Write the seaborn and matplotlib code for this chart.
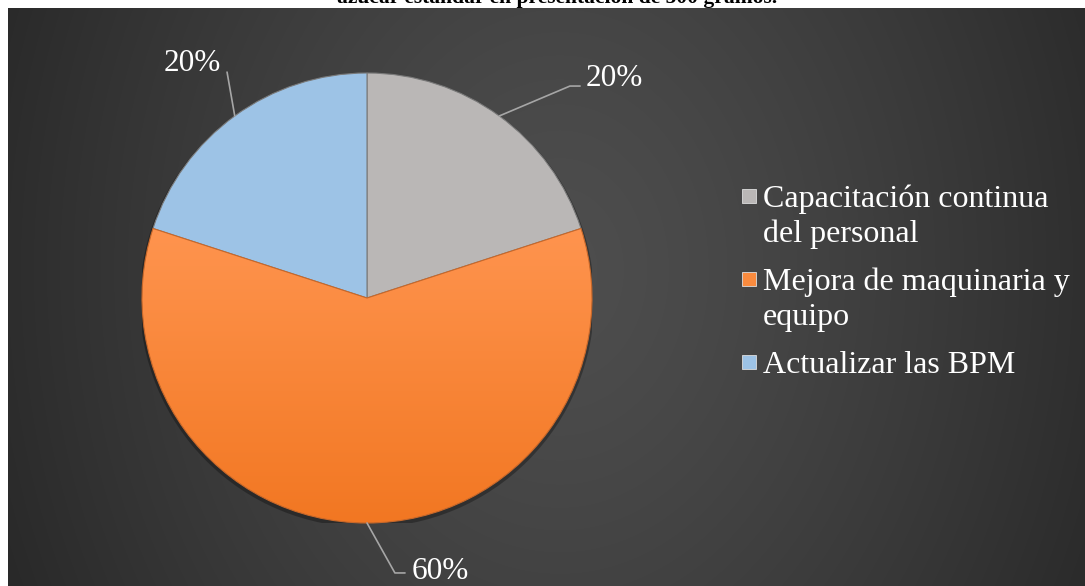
import numpy as np
import matplotlib
matplotlib.use("Agg")
import matplotlib.pyplot as plt
import seaborn as sns
from matplotlib.patches import Rectangle, Circle

# Data
categorias = ["Capacitación continua\ndel personal",
              "Mejora de maquinaria y\nequipo",
              "Actualizar las BPM"]
valores = [20, 60, 20]
colores = ["#BAB7B6", "#FA8B3E", "#9DC3E6"]
titulo = "azúcar estándar en presentación de 500 gramos."

sns.set_theme(style="dark")
plt.rcParams["font.family"] = ["Liberation Serif", "DejaVu Serif"]

W, H = 1085, 586
fig = plt.figure(figsize=(W / 100, H / 100), dpi=100, facecolor="white")


def fx(px):
    return px / W


def fy(py):
    return 1 - py / H


# Dark panel with a soft radial gradient
px0, py0 = 8, 8
bg = fig.add_axes([fx(px0), 0, 1 - fx(px0), 1 - py0 / H])
xs = np.arange(px0, W) + 0.5
ys = np.arange(py0, H) + 0.5
X, Y = np.meshgrid(xs, ys)
d = np.sqrt(((X - 560) / 640) ** 2 + ((Y - 270) / 820) ** 2)
d = np.clip(d, 0, 1)
lev = (0x4e - (0x4e - 0x26) * d ** 1.3) / 255.0
bg.imshow(np.dstack([lev, lev, lev]), aspect="auto", interpolation="bilinear")
bg.set_axis_off()

# Title line (cut at the top edge of the page)
fig.text(fx(557), fy(3), titulo, ha="center", va="baseline", fontsize=15.5,
         fontweight="bold", color="black")

# Pie
R = 225
cx, cy = 367, 298
ax = fig.add_axes([fx(cx - R), fy(cy + R), 2 * R / W, 2 * R / H])
ax.set_facecolor("none")

# soft shadow under the pie
ax.add_patch(Circle((0.0, -0.010), 1.010, color="black", alpha=0.3, lw=0, zorder=0))

wedges, _ = ax.pie(valores, colors=colores, startangle=90, counterclock=False,
                   radius=1, wedgeprops=dict(linewidth=0.8, edgecolor="#7a7a7a"))
for w in wedges:
    w.set_zorder(1)

# vertical shading on the large orange wedge
grad = np.linspace(0, 1, 256)[:, None]
c_top = np.array([0xFF, 0x95, 0x50]) / 255
c_bot = np.array([0xF2, 0x77, 0x22]) / 255
img = c_top[None, None, :] * (1 - grad[:, :, None]) + c_bot[None, None, :] * grad[:, :, None]
img = np.repeat(img, 2, axis=1)
im = ax.imshow(img, extent=(-1, 1, -1, 0.35), aspect="auto", zorder=2)
im.set_clip_path(wedges[1])
wedges[1].set_edgecolor("#c8682a")
wedges[1].set_zorder(3)
wedges[1].set_facecolor("none")

ax.set_xlim(-1, 1)
ax.set_ylim(-1, 1)
ax.set_aspect("equal")
ax.set_axis_off()

# Percentage labels with leader lines (elbow, end, text anchor in radius units)
total = sum(valores)
leaders = [
    dict(pts=[(0.902, 0.942), (0.947, 0.942)], txt=(0.973, 0.942), ha="left"),
    dict(pts=[(0.124, -1.222), (0.169, -1.222)], txt=(0.200, -1.250), ha="left"),
    dict(pts=[(-0.622, 1.004)], txt=(-0.778, 1.009), ha="center"),
]
for w, v, ld in zip(wedges, valores, leaders):
    th = np.deg2rad((w.theta1 + w.theta2) / 2)
    line = [(np.cos(th), np.sin(th))] + ld["pts"]
    lx, ly = zip(*line)
    ax.plot(lx, ly, color="#a6a6a6", lw=1.2, clip_on=False, zorder=4)
    ax.text(ld["txt"][0], ld["txt"][1], f"{v / total:.0%}", ha=ld["ha"],
            va="baseline", fontsize=22.5, color="white", clip_on=False, zorder=5)

# Legend
sq = 14
line_h = 34.5
entry_gap = 48.5
base = 207
for cat, col in zip(categorias, colores):
    lines = cat.split("\n")
    fig.patches.append(Rectangle((fx(742), fy(base - 11 + sq / 2)), sq / W, sq / H,
                                 transform=fig.transFigure, facecolor=col,
                                 edgecolor="#dddddd", lw=0.6))
    for i, t in enumerate(lines):
        fig.text(fx(763), fy(base + i * line_h), t, ha="left", va="baseline",
                 fontsize=23, color="white")
    base += (len(lines) - 1) * line_h + entry_gap

fig.savefig("out.png", dpi=100, facecolor="white")
